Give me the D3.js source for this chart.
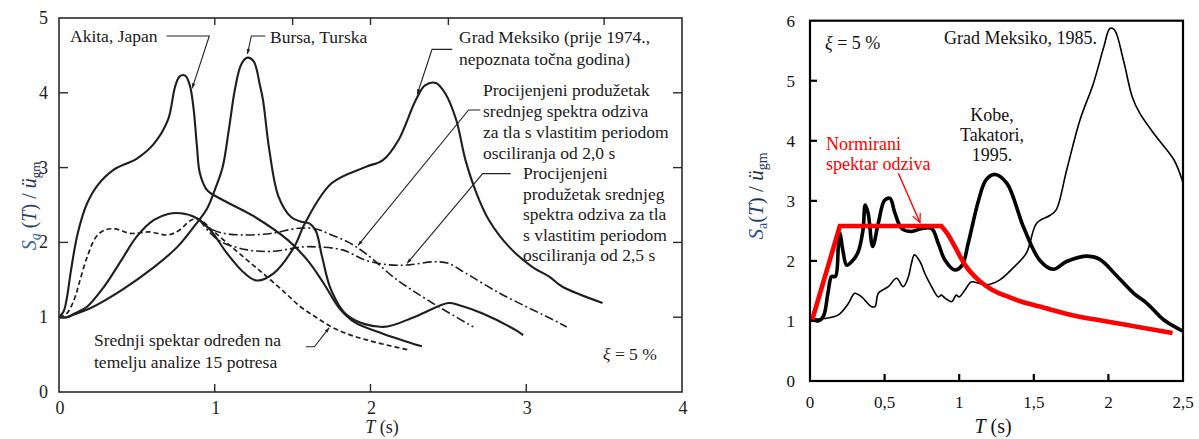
<!DOCTYPE html>
<html>
<head>
<meta charset="utf-8">
<script src="https://cdn.jsdelivr.net/npm/d3@7"></script>
<style>
  html, body { margin: 0; padding: 0; background: #ffffff; }
  svg { display: block; font-family: "Liberation Serif", "Times New Roman", serif; }
</style>
</head>
<body>
<script>
// ---------------- DATA (left chart) : [T (s), Sa/ugm] ----------------
const akitaJapan = [[0,1.0],[0.03,1.08],[0.05,1.25],[0.075,1.6],[0.12,2.12],[0.18,2.52],[0.25,2.77],[0.35,2.97],[0.5,3.12],[0.61,3.32],[0.7,3.64],[0.745,4.08],[0.775,4.22],[0.81,4.23],[0.84,4.1],[0.865,3.77],[0.885,3.3],[0.905,2.92],[0.95,2.7],[1.04,2.58],[1.25,2.35],[1.47,2.03],[1.6,1.75],[1.7,1.45],[1.8,1.12],[1.9,0.93],[2.08,0.78],[2.33,0.61]];
const bursaTurska = [[0,1.0],[0.05,1.0],[0.1,1.04],[0.2,1.12],[0.4,1.36],[0.61,1.67],[0.76,1.94],[0.87,2.22],[0.95,2.45],[1.0,2.7],[1.05,3.0],[1.09,3.5],[1.13,4.05],[1.17,4.38],[1.21,4.47],[1.25,4.42],[1.29,4.1],[1.31,3.9],[1.35,3.24],[1.41,2.61],[1.49,2.34],[1.55,2.28],[1.61,2.25],[1.65,2.15],[1.69,1.8],[1.75,1.35],[1.86,1.01],[2.08,0.87],[2.29,1.01],[2.5,1.19],[2.57,1.16],[2.72,1.05],[2.93,0.83],[2.98,0.76]];
const gradMeksikoOld = [[0,1.0],[0.05,1.0],[0.1,1.05],[0.18,1.14],[0.29,1.41],[0.4,1.76],[0.5,2.08],[0.61,2.3],[0.7,2.38],[0.78,2.39],[0.87,2.34],[0.97,2.17],[1.08,1.85],[1.19,1.59],[1.27,1.49],[1.38,1.59],[1.51,1.94],[1.58,2.26],[1.75,2.79],[1.97,3.01],[2.08,3.1],[2.18,3.37],[2.29,3.9],[2.35,4.1],[2.42,4.13],[2.48,3.99],[2.55,3.64],[2.61,3.1],[2.68,2.66],[2.76,2.3],[2.89,1.94],[3.04,1.67],[3.15,1.54],[3.23,1.41],[3.49,1.19]];
const meanSpectrum = [[0,1.0],[0.05,1.05],[0.1,1.25],[0.13,1.46],[0.18,1.8],[0.24,2.08],[0.3,2.17],[0.36,2.18],[0.46,2.12],[0.58,2.14],[0.7,2.1],[0.77,2.16],[0.85,2.3],[0.9,2.31],[0.98,2.17],[1.08,1.99],[1.21,1.76],[1.33,1.55],[1.45,1.33],[1.55,1.14],[1.65,1.0],[1.75,0.87],[1.86,0.77],[1.97,0.7],[2.1,0.63],[2.25,0.56]];
const extension20 = [[0.9,2.31],[0.96,2.2],[1.04,2.13],[1.17,2.1],[1.36,2.12],[1.54,2.19],[1.65,2.18],[1.75,2.1],[1.86,2.0],[1.97,1.85],[2.17,1.5],[2.39,1.2],[2.66,0.87]];
const extension25 = [[0.9,2.31],[0.96,2.15],[1.04,2.01],[1.21,1.9],[1.36,1.88],[1.57,1.94],[1.65,1.94],[1.82,1.9],[1.97,1.76],[2.12,1.7],[2.25,1.7],[2.4,1.74],[2.5,1.72],[2.61,1.59],[2.83,1.32],[3.04,1.1],[3.15,0.99],[3.26,0.87]];

const leftXTicks = [0, 1, 2, 3, 4];
const leftXTickLabels = ["0", "1", "2", "3", "4"];
const leftYTicks = [0, 1, 2, 3, 4, 5];
const leftYTickLabels = ["0", "1", "2", "3", "4", "5"];

// ---------------- DATA (right chart) ----------------
const kobeTakatori = [[0.01,1.05],[0.056,1.0],[0.09,1.08],[0.12,1.46],[0.145,1.74],[0.17,1.74],[0.19,2.24],[0.2,2.46],[0.22,2.18],[0.246,1.93],[0.28,1.99],[0.32,2.13],[0.355,2.51],[0.37,2.93],[0.39,2.79],[0.42,2.24],[0.458,2.63],[0.5,3.01],[0.536,3.04],[0.57,2.79],[0.615,2.54],[0.68,2.49],[0.75,2.54],[0.815,2.54],[0.86,2.29],[0.905,2.01],[0.97,1.85],[1.02,1.93],[1.06,2.29],[1.13,3.01],[1.18,3.35],[1.24,3.44],[1.32,3.29],[1.43,2.57],[1.54,2.01],[1.63,1.86],[1.72,1.99],[1.85,2.08],[1.94,2.03],[2.06,1.74],[2.17,1.46],[2.26,1.29],[2.37,1.02],[2.5,0.83]];
const gradMeksiko1985 = [[0.01,1.03],[0.1,1.04],[0.19,1.1],[0.257,1.29],[0.3,1.46],[0.346,1.4],[0.41,1.24],[0.436,1.24],[0.458,1.46],[0.525,1.57],[0.58,1.71],[0.625,1.57],[0.66,1.74],[0.68,1.96],[0.7,2.1],[0.737,1.99],[0.77,1.79],[0.815,1.57],[0.86,1.4],[0.88,1.43],[0.905,1.38],[0.95,1.32],[0.98,1.43],[1.0,1.4],[1.04,1.52],[1.08,1.65],[1.13,1.63],[1.18,1.6],[1.27,1.68],[1.36,1.88],[1.45,2.13],[1.52,2.63],[1.61,2.76],[1.65,2.85],[1.72,3.51],[1.81,4.35],[1.9,4.96],[1.97,5.57],[2.01,5.87],[2.04,5.85],[2.1,5.35],[2.16,4.73],[2.21,4.46],[2.32,4.07],[2.44,3.68],[2.5,3.3]];
const normSpectrum = [[0.015,1.02],[0.2,2.58],[0.88,2.58],[0.93,2.42],[0.97,2.24],[1.04,1.93],[1.13,1.68],[1.22,1.52],[1.31,1.42],[1.42,1.32],[1.54,1.24],[1.75,1.1],[1.99,0.99],[2.2,0.9],[2.43,0.8]];

const rightXTicks = [0, 0.5, 1, 1.5, 2, 2.5];
const rightXTickLabels = ["0", "0,5", "1", "1,5", "2", "2,5"];
const rightYTicks = [0, 1, 2, 3, 4, 5, 6];
const rightYTickLabels = ["0", "1", "2", "3", "4", "5", "6"];

// ---------------- DRAWING ----------------
const svg = d3.select("body").append("svg").attr("width", 1199).attr("height", 439);
svg.append("rect").attr("width", 1199).attr("height", 439).attr("fill", "#fff");

const defs = svg.append("defs");
defs.append("marker").attr("id", "arrBlack").attr("viewBox", "0 0 10 10")
  .attr("refX", 10).attr("refY", 5).attr("markerWidth", 9).attr("markerHeight", 5)
  .attr("markerUnits", "userSpaceOnUse").attr("orient", "auto")
  .append("path").attr("d", "M0,1.5 L10,5 L0,8.5 Z").attr("fill", "#222");
defs.append("marker").attr("id", "arrRed").attr("viewBox", "0 0 10 10")
  .attr("refX", 9.5).attr("refY", 5).attr("markerWidth", 11).attr("markerHeight", 9)
  .attr("markerUnits", "userSpaceOnUse").attr("orient", "auto")
  .append("path").attr("d", "M0,0.5 L9.5,5 L0,9.5").attr("fill", "none").attr("stroke", "#ff0000").attr("stroke-width", 1.4);

// ===== LEFT CHART =====
const xL = d3.scaleLinear().domain([0, 4]).range([59, 682]);
const yL = d3.scaleLinear().domain([0, 5]).range([392, 18]);
const gL = svg.append("g");

const lineL = d3.line().x(d => xL(d[0])).y(d => yL(d[1])).curve(d3.curveCatmullRom.alpha(0.5));

[akitaJapan, bursaTurska, gradMeksikoOld].forEach(s => {
  gL.append("path").attr("d", lineL(s)).attr("fill", "none")
    .attr("stroke", "#1e1e1e").attr("stroke-width", 2.1)
    .attr("stroke-linejoin", "round");
});
gL.append("path").attr("d", lineL(meanSpectrum)).attr("fill", "none")
  .attr("stroke", "#1e1e1e").attr("stroke-width", 1.7).attr("stroke-dasharray", "5,3");
[extension20, extension25].forEach(s => {
  gL.append("path").attr("d", lineL(s)).attr("fill", "none")
    .attr("stroke", "#1e1e1e").attr("stroke-width", 1.6).attr("stroke-dasharray", "9,3,2,3");
});

// frame
gL.append("rect").attr("x", xL(0)).attr("y", yL(5))
  .attr("width", xL(4) - xL(0)).attr("height", yL(0) - yL(5))
  .attr("fill", "none").attr("stroke", "#2a2a2a").attr("stroke-width", 1.6);

// ticks (inward)
[1, 2, 3].forEach(v => gL.append("line").attr("x1", xL(v)).attr("x2", xL(v))
  .attr("y1", yL(0)).attr("y2", yL(0) - 8).attr("stroke", "#2a2a2a").attr("stroke-width", 1.4));
[1, 1.5, 2, 2.5, 3.5].forEach(v => gL.append("line").attr("x1", xL(v)).attr("x2", xL(v))
  .attr("y1", yL(5)).attr("y2", yL(5) + 7).attr("stroke", "#2a2a2a").attr("stroke-width", 1.4));
[1, 2, 3, 4].forEach(v => {
  gL.append("line").attr("x1", xL(0)).attr("x2", xL(0) + 9)
    .attr("y1", yL(v)).attr("y2", yL(v)).attr("stroke", "#2a2a2a").attr("stroke-width", 1.4);
  gL.append("line").attr("x1", xL(4)).attr("x2", xL(4) - 9)
    .attr("y1", yL(v)).attr("y2", yL(v)).attr("stroke", "#2a2a2a").attr("stroke-width", 1.4);
});

// tick labels
leftYTicks.forEach((v, i) => gL.append("text").attr("x", xL(0) - 11).attr("y", yL(v) + 6)
  .attr("text-anchor", "end").attr("font-size", 18).attr("fill", "#222").text(leftYTickLabels[i]));
leftXTicks.forEach((v, i) => gL.append("text").attr("x", xL(v) + 1).attr("y", yL(0) + 22)
  .attr("text-anchor", "middle").attr("font-size", 18).attr("fill", "#222").text(leftXTickLabels[i]));

// axis titles
const tL = gL.append("text").attr("text-anchor", "middle").attr("font-size", 18).attr("fill", "#222")
  .attr("x", 382).attr("y", 433);
tL.append("tspan").attr("font-style", "italic").text("T");
tL.append("tspan").text(" (s)");

const yLab = gL.append("text").attr("text-anchor", "middle").attr("font-size", 20)
  .attr("transform", "translate(36,206) rotate(-90)");
yLab.append("tspan").attr("font-style", "italic").attr("fill", "#3566a8").text("S");
yLab.append("tspan").attr("font-style", "italic").attr("fill", "#3566a8").attr("font-size", 14).attr("dy", 4).text("a");
yLab.append("tspan").attr("fill", "#23406e").attr("dy", -4).text(" (");
yLab.append("tspan").attr("fill", "#23406e").attr("font-style", "italic").text("T");
yLab.append("tspan").attr("fill", "#23406e").text(") / ");
yLab.append("tspan").attr("fill", "#1f2f4f").attr("font-style", "italic").text("ü");
yLab.append("tspan").attr("fill", "#1f2f4f").attr("font-size", 13).attr("dy", 4).text("gm");

// annotations
function multiText(g, x, y0, dy, lines, size, fill) {
  const t = g.append("text").attr("font-size", size).attr("fill", fill || "#1a1a1a");
  lines.forEach((s, i) => t.append("tspan").attr("x", x).attr("y", y0 + i * dy).text(s));
  return t;
}
multiText(gL, 70, 42, 0, ["Akita, Japan"], 17.5);
multiText(gL, 270, 43, 0, ["Bursa, Turska"], 17.5);
multiText(gL, 459, 42.5, 22, ["Grad Meksiko (prije 1974.,", "nepoznata točna godina)"], 17.5);
multiText(gL, 483, 96, 21, ["Procijenjeni produžetak", "srednjeg spektra odziva", "za tla s vlastitim periodom", "osciliranja od 2,0 s"], 17.5);
multiText(gL, 523, 179, 20.5, ["Procijenjeni", "produžetak srednjeg", "spektra odziva za tla", "s vlastitim periodom", "osciliranja od 2,5 s"], 17.5);
multiText(gL, 94, 346, 21.5, ["Srednji spektar određen na", "temelju analize 15 potresa"], 17.5);
const xiL = gL.append("text").attr("x", 603).attr("y", 360).attr("font-size", 17.5).attr("fill", "#1a1a1a");
xiL.append("tspan").attr("font-style", "italic").text("ξ");
xiL.append("tspan").text(" = 5 %");

// leader lines (data coordinates)
const leaderL = d3.line().x(d => xL(d[0])).y(d => yL(d[1]));
const leaders = [
  [[0.69, 4.76], [0.965, 4.76], [0.855, 4.06]],
  [[1.325, 4.76], [1.235, 4.76], [1.21, 4.52]],
  [[2.525, 4.58], [2.395, 4.58], [2.30, 3.98]],
  [[2.705, 3.77], [2.63, 3.77], [1.92, 1.96]],
  [[2.9, 2.92], [2.72, 2.92], [2.235, 1.72]],
  [[1.585, 0.605], [1.64, 0.605], [1.735, 0.86]]
];
leaders.forEach(p => gL.append("path").attr("d", leaderL(p)).attr("fill", "none")
  .attr("stroke", "#222").attr("stroke-width", 1.1).attr("marker-end", "url(#arrBlack)"));

// ===== RIGHT CHART =====
const xR = d3.scaleLinear().domain([0, 2.5]).range([810, 1183]);
const yR = d3.scaleLinear().domain([0, 6]).range([381, 20.7]);
const gR = svg.append("g");
const lineR = d3.line().x(d => xR(d[0])).y(d => yR(d[1])).curve(d3.curveCatmullRom.alpha(0.5));

const clip = defs.append("clipPath").attr("id", "clipR");
clip.append("rect").attr("x", xR(0)).attr("y", yR(6)).attr("width", xR(2.5) - xR(0)).attr("height", yR(0) - yR(6));

const gRc = gR.append("g").attr("clip-path", "url(#clipR)");
gRc.append("path").attr("d", lineR(gradMeksiko1985)).attr("fill", "none")
  .attr("stroke", "#000").attr("stroke-width", 1.6).attr("stroke-linejoin", "round");
gRc.append("path").attr("d", lineR(kobeTakatori)).attr("fill", "none")
  .attr("stroke", "#000").attr("stroke-width", 3.6).attr("stroke-linejoin", "round");

// normalized spectrum: linear ramp + plateau, smooth decay
const corner = 2;
const rampPart = normSpectrum.slice(0, corner + 1);
const decayPart = normSpectrum.slice(corner);
const redLin = d3.line().x(d => xR(d[0])).y(d => yR(d[1]));
const redSmooth = d3.line().x(d => xR(d[0])).y(d => yR(d[1])).curve(d3.curveMonotoneX);
gR.append("path").attr("d", redLin(rampPart) + redSmooth(decayPart).replace(/^M[^A-Za-z]*/, ""))
  .attr("fill", "none").attr("stroke", "#ff0000").attr("stroke-width", 4.6)
  .attr("stroke-linejoin", "miter").attr("stroke-linecap", "butt");

// frame
gR.append("rect").attr("x", xR(0)).attr("y", yR(6))
  .attr("width", xR(2.5) - xR(0)).attr("height", yR(0) - yR(6))
  .attr("fill", "none").attr("stroke", "#000").attr("stroke-width", 2.2);
[1, 2, 3, 4, 5].forEach(v => gR.append("line").attr("x1", xR(0)).attr("x2", xR(0) + 7)
  .attr("y1", yR(v)).attr("y2", yR(v)).attr("stroke", "#000").attr("stroke-width", 2.2));
[0.5, 1, 1.5, 2].forEach(v => gR.append("line").attr("x1", xR(v)).attr("x2", xR(v))
  .attr("y1", yR(0)).attr("y2", yR(0) - 7).attr("stroke", "#000").attr("stroke-width", 2.2));

rightYTicks.forEach((v, i) => gR.append("text").attr("x", 795).attr("y", yR(v) + 6)
  .attr("text-anchor", "end").attr("font-size", 17).attr("fill", "#111").text(rightYTickLabels[i]));
rightXTicks.forEach((v, i) => gR.append("text").attr("x", xR(v)).attr("y", 408)
  .attr("text-anchor", "middle").attr("font-size", 17).attr("fill", "#111").text(rightXTickLabels[i]));

const tR = gR.append("text").attr("text-anchor", "middle").attr("font-size", 20).attr("fill", "#111")
  .attr("x", 993).attr("y", 433);
tR.append("tspan").attr("font-style", "italic").text("T");
tR.append("tspan").text(" (s)");

const yLabR = gR.append("text").attr("text-anchor", "middle").attr("font-size", 21)
  .attr("transform", "translate(763,196) rotate(-90)");
yLabR.append("tspan").attr("font-style", "italic").attr("fill", "#2d5187").text("S");
yLabR.append("tspan").attr("fill", "#2d5187").attr("font-size", 14).attr("dy", 4).text("a");
yLabR.append("tspan").attr("fill", "#24406c").attr("dy", -4).text("(");
yLabR.append("tspan").attr("fill", "#24406c").attr("font-style", "italic").text("T");
yLabR.append("tspan").attr("fill", "#1f2f4f").text(") / ");
yLabR.append("tspan").attr("fill", "#1f2f4f").attr("font-style", "italic").text("ü");
yLabR.append("tspan").attr("fill", "#1f2f4f").attr("font-size", 14).attr("dy", 4).text("gm");

const xiR = gR.append("text").attr("x", 825).attr("y", 49).attr("font-size", 18).attr("fill", "#111");
xiR.append("tspan").attr("font-style", "italic").text("ξ");
xiR.append("tspan").text(" = 5 %");
multiText(gR, 944, 44, 0, ["Grad Meksiko, 1985."], 18, "#111");
const kobe = gR.append("text").attr("font-size", 18).attr("fill", "#111").attr("text-anchor", "middle");
["Kobe,", "Takatori,", "1995."].forEach((s, i) => kobe.append("tspan").attr("x", 992).attr("y", 121 + i * 20).text(s));
multiText(gR, 826, 150, 20, ["Normirani", "spektar odziva"], 18, "#ff0000");
gR.append("path").attr("d", d3.line().x(d => xR(d[0])).y(d => yR(d[1]))([[0.592, 3.46], [0.737, 2.64]]))
  .attr("stroke", "#ff0000").attr("stroke-width", 1.4).attr("fill", "none").attr("marker-end", "url(#arrRed)");
</script>
</body>
</html>
